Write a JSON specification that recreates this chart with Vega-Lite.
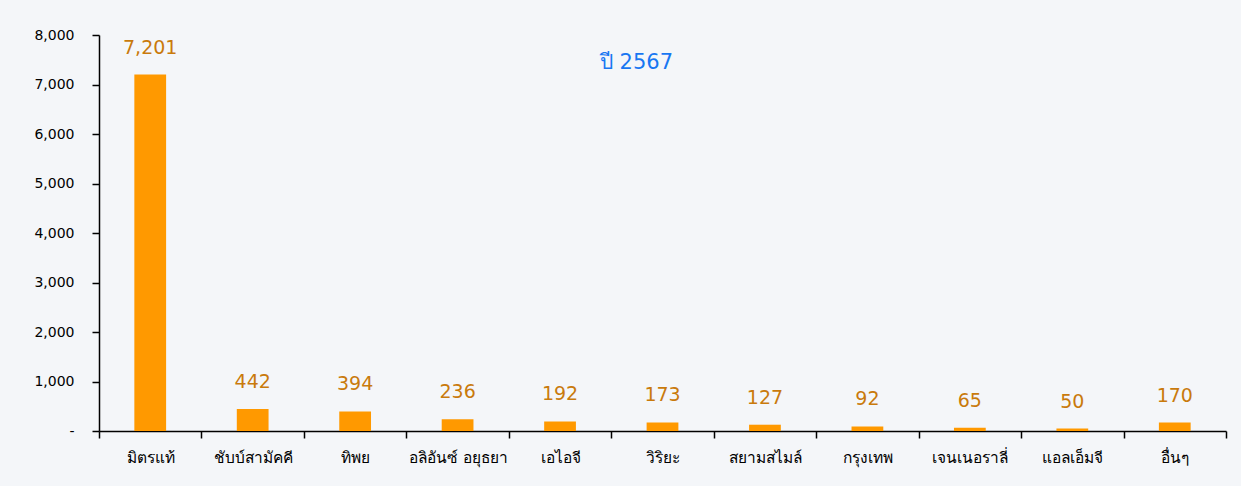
{
  "$schema": "https://vega.github.io/schema/vega-lite/v6.json",
  "width": 1127,
  "height": 396,
  "autosize": {"type": "none"},
  "padding": {"left": 99, "top": 35, "right": 15, "bottom": 55},
  "background": "#f4f6f9",
  "title": {
    "text": "ปี 2567",
    "orient": "top",
    "anchor": "middle",
    "offset": -45,
    "dx": -26,
    "fontSize": 21,
    "fontWeight": "normal",
    "font": "DejaVu Sans",
    "color": "#1877f2"
  },
  "data": {
    "values": [
      {"company": "มิตรแท้", "value": 7201},
      {"company": "ชับบ์สามัคคี", "value": 442},
      {"company": "ทิพย", "value": 394},
      {"company": "อลิอันซ์ อยุธยา", "value": 236},
      {"company": "เอไอจี", "value": 192},
      {"company": "วิริยะ", "value": 173},
      {"company": "สยามสไมล์", "value": 127},
      {"company": "กรุงเทพ", "value": 92},
      {"company": "เจนเนอราลี่", "value": 65},
      {"company": "แอลเอ็มจี", "value": 50},
      {"company": "อื่นๆ", "value": 170}
    ]
  },
  "encoding": {
    "x": {
      "field": "company",
      "type": "nominal",
      "sort": null,
      "scale": {"paddingInner": 0, "paddingOuter": 0},
      "axis": {
        "title": null,
        "labelAngle": 0,
        "labelFontSize": 15.5,
        "labelFont": "DejaVu Sans",
        "labelColor": "#000000",
        "labelPadding": 12,
        "tickBand": "extent",
        "tickSize": 7,
        "tickColor": "#000000",
        "tickWidth": 1.5,
        "domainColor": "#000000",
        "domainWidth": 1.5,
        "grid": false
      }
    },
    "y": {
      "field": "value",
      "type": "quantitative",
      "scale": {"domain": [0, 8000], "nice": false},
      "axis": {
        "title": null,
        "values": [0, 1000, 2000, 3000, 4000, 5000, 6000, 7000, 8000],
        "labelExpr": "datum.value === 0 ? '-\u00a0\u00a0\u00a0' : format(datum.value, ',')",
        "labelFontSize": 14,
        "labelFont": "DejaVu Sans",
        "labelColor": "#000000",
        "labelPadding": 18,
        "tickSize": 7,
        "tickColor": "#000000",
        "tickWidth": 1.5,
        "domainColor": "#000000",
        "domainWidth": 1.5,
        "grid": false
      }
    }
  },
  "layer": [
    {
      "mark": {"type": "bar", "color": "#ff9900", "width": {"band": 0.31}}
    },
    {
      "mark": {
        "type": "text",
        "baseline": "bottom",
        "dy": -17,
        "fontSize": 19,
        "font": "DejaVu Sans",
        "color": "#c97a0c"
      },
      "encoding": {
        "text": {"field": "value", "type": "quantitative", "format": ","}
      }
    }
  ],
  "config": {
    "view": {"stroke": null}
  }
}
